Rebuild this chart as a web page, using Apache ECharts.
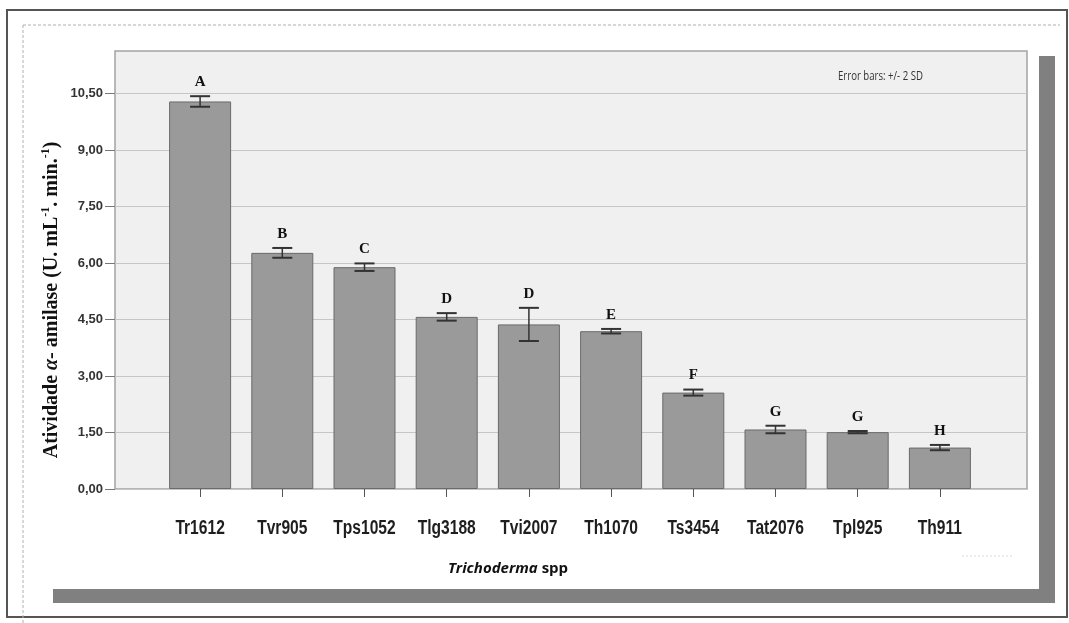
<!DOCTYPE html>
<html>
<head>
<meta charset="utf-8">
<script src="https://cdn.jsdelivr.net/npm/echarts@6/dist/echarts.min.js"></script>
<style>
html,body{margin:0;padding:0;background:#fff;}
#chart{width:1069px;height:623px;}
</style>
</head>
<body>
<div id="chart"></div>
<script>
var categories = ['Tr1612','Tvr905','Tps1052','Tlg3188','Tvi2007','Th1070','Ts3454','Tat2076','Tpl925','Th911'];
var means = [10.29, 6.27, 5.89, 4.57, 4.37, 4.19, 2.56, 1.58, 1.51, 1.10];
var errors = [0.14, 0.13, 0.10, 0.10, 0.44, 0.06, 0.08, 0.10, 0.03, 0.07];
var letters = ['A','B','C','D','D','E','F','G','G','H'];
var yTickValues = [0, 1.5, 3, 4.5, 6, 7.5, 9, 10.5];
var yMax = 11.63;

var chart = echarts.init(document.getElementById('chart'), null, {renderer:'canvas'});

var errData = categories.map(function(c, i){ return [i, means[i], errors[i]]; });

function fmt(v){
  for (var k = 0; k < yTickValues.length; k++) {
    if (Math.abs(yTickValues[k] - v) < 1e-6) return v.toFixed(2).replace('.', ',');
  }
  return '';
}

var option = {
  backgroundColor: '#ffffff',
  animation: false,
  grid: [
    {left:115, right:42, top:51, bottom:134, show:true, backgroundColor:'#f0f0f0', borderColor:'#a3a3a3', borderWidth:1.5, z:0},
    {left:159, right:88, top:51, bottom:134, show:false}
  ],
  xAxis: [
    {gridIndex:0, type:'value', min:0, max:1, show:false},
    {gridIndex:1, type:'category', data:categories,
     axisLine:{show:false},
     axisTick:{show:true, interval:0, alignWithLabel:true, length:8, lineStyle:{color:'#555', width:1}},
     axisLabel:{show:false}}
  ],
  yAxis: [
    {gridIndex:0, type:'value', min:0, max:yMax, interval:1.5,
     axisLine:{show:false},
     axisTick:{show:true, length:10, lineStyle:{color:'#777'}, customValues: yTickValues},
     axisLabel:{margin:12, showMaxLabel:true, formatter:fmt,
       fontFamily:'"Liberation Sans",Arial', fontWeight:'bold', fontSize:13, color:'#333'},
     splitLine:{show:true, lineStyle:{color:'#c6c6c6', width:1.2}}},
    {gridIndex:1, type:'value', min:0, max:yMax, interval:1.5, show:false, splitLine:{show:false}}
  ],
  series: [
    {type:'bar', xAxisIndex:1, yAxisIndex:1, data:means, barWidth:62,
     itemStyle:{color:'#9a9a9a', borderColor:'#6a6a6a', borderWidth:1}, z:2},
    {type:'custom', xAxisIndex:1, yAxisIndex:1, data:errData, z:5, clip:false,
     renderItem:function(params, api){
       var i = api.value(0), m = api.value(1), e = api.value(2);
       var top = api.coord([i, m + e]);
       var bot = api.coord([i, m - e]);
       var base = api.coord([i, 0]);
       var x = top[0];
       var hw = 10;
       return {type:'group', children:[
         {type:'line', shape:{x1:x, y1:top[1], x2:x, y2:bot[1]}, style:{stroke:'#333', lineWidth:1.5}},
         {type:'line', shape:{x1:x-hw, y1:top[1], x2:x+hw, y2:top[1]}, style:{stroke:'#333', lineWidth:2}},
         {type:'line', shape:{x1:x-hw, y1:bot[1], x2:x+hw, y2:bot[1]}, style:{stroke:'#333', lineWidth:2}},
         {type:'text', style:{text:letters[params.dataIndex], x:x, y:top[1]-14, align:'center', verticalAlign:'middle',
           fontFamily:'"Liberation Serif","Times New Roman",serif', fontWeight:'bold', fontSize:15, fill:'#111'}},
         {type:'text', x:x, y:base[1]+39, scaleX:0.78, scaleY:1,
          style:{text:categories[params.dataIndex], x:0, y:0, align:'center', verticalAlign:'middle',
           fontFamily:'"Liberation Sans",Arial', fontWeight:'bold', fontSize:20, fill:'#1e1e1e'}}
       ]};
     }}
  ],
  graphic: [
    {type:'rect', z:-20, shape:{x:7, y:10, width:1060, height:607}, style:{fill:'#fff', stroke:'#555', lineWidth:2}},
    {type:'line', z:-19, shape:{x1:23, y1:25, x2:23, y2:623}, style:{stroke:'#b0b0b0', lineWidth:1, lineDash:[3,2]}},
    {type:'line', z:-19, shape:{x1:23, y1:25, x2:1060, y2:25}, style:{stroke:'#b0b0b0', lineWidth:1, lineDash:[3,2]}},
    {type:'rect', z:-18, shape:{x:53, y:56, width:1002, height:547}, style:{fill:'#808080'}},
    {type:'rect', z:-17, shape:{x:30, y:38, width:1009, height:551}, style:{fill:'#ffffff'}},
    {type:'line', z:-16, shape:{x1:962, y1:556, x2:1013, y2:556}, style:{stroke:'#dcdcdc', lineWidth:1, lineDash:[2,2]}},
    {type:'text', z:10, x:52, y:300, rotation:Math.PI/2,
     style:{text:'Atividade {a|α}- amilase (U. mL{s|-1}. min.{s|-1})', align:'center', verticalAlign:'middle',
       fontFamily:'"Liberation Serif","Times New Roman",serif', fontWeight:'bold', fontSize:20, fill:'#111', lineHeight:24,
       rich:{
         a:{fontFamily:'"Liberation Serif","Times New Roman",serif', fontStyle:'italic', fontWeight:'bold', fontSize:20, fill:'#111', lineHeight:24},
         s:{fontFamily:'"Liberation Serif","Times New Roman",serif', fontWeight:'bold', fontSize:12, fill:'#111', verticalAlign:'top', lineHeight:24}
       }}},
    {type:'text', z:10, x:508, y:569,
     style:{text:'{i|Trichoderma} spp', align:'center', verticalAlign:'middle',
       fontFamily:'"Open Sans","Noto Sans",sans-serif', fontWeight:'bold', fontSize:15, fill:'#111',
       rich:{i:{fontFamily:'"Open Sans","Noto Sans",sans-serif', fontStyle:'italic', fontWeight:'bold', fontSize:15, fill:'#111'}}}},
    {type:'text', z:10, x:838, y:77, scaleX:0.8,
     style:{text:'Error bars: +/- 2 SD', align:'left', verticalAlign:'middle',
       fontFamily:'"Open Sans","Noto Sans",sans-serif', fontSize:12, fill:'#333'}}
  ]
};
chart.setOption(option);
</script>
</body>
</html>
